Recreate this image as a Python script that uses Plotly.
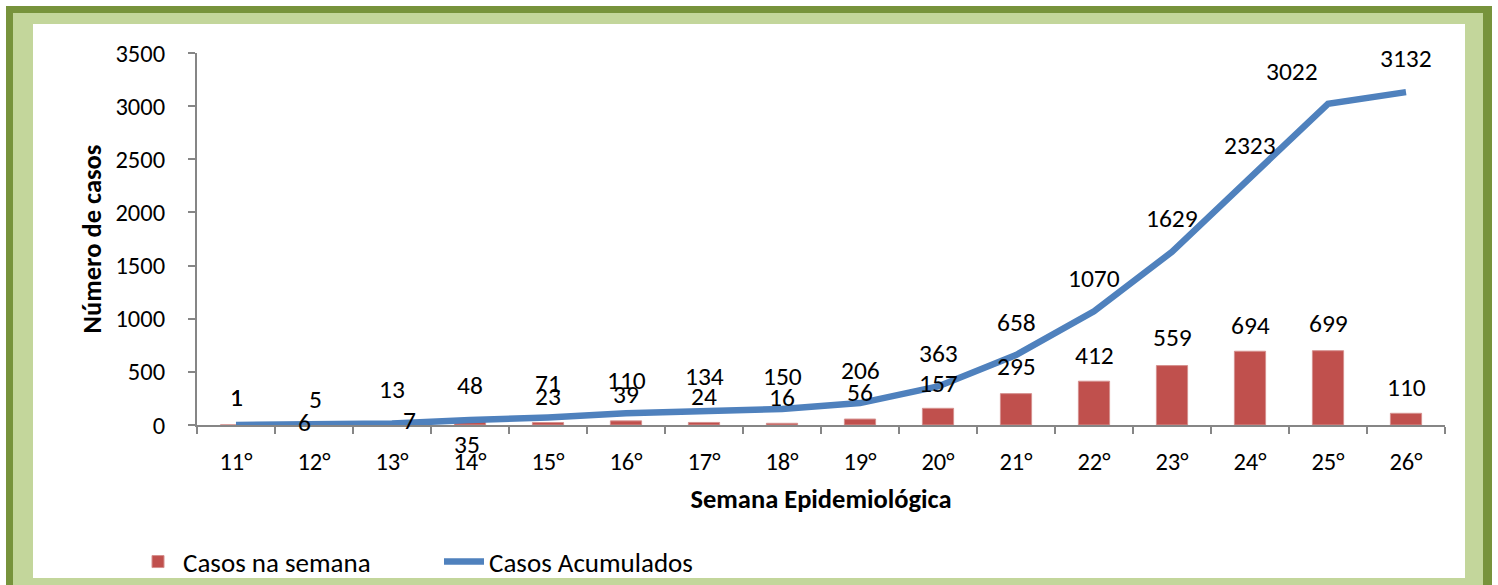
import plotly.graph_objects as go

weeks = ["11°", "12°", "13°", "14°", "15°", "16°", "17°", "18°",
         "19°", "20°", "21°", "22°", "23°", "24°", "25°", "26°"]
weekly = [1, 5, 7, 35, 23, 39, 24, 16, 56, 157, 295, 412, 559, 694, 699, 110]
cumulative = [1, 6, 13, 48, 71, 110, 134, 150, 206, 363, 658, 1070, 1629, 2323, 3022, 3132]

# label offsets in pixels (dx, dy up)
cum_off = [(0, 27), (-10, 2), (0, 34), (0, 34), (0, 34), (0, 33), (0, 34), (0, 33),
           (0, 33), (0, 33), (0, 33), (0, 33), (0, 33), (0, 33), (-36, 32), (0, 34)]
wk_off = [(0, 27), (1, 25), (17, 4), (-3, -23), (0, 26), (0, 26), (0, 26), (0, 26),
          (0, 27), (0, 25), (0, 27), (0, 26), (0, 28), (0, 26), (0, 27), (0, 26)]

FONT = "Carlito, Lato"
W, H = 1498, 585
RED = "#C0504D"
BLUE = "#4F81BD"
AX = "#868686"

fig = go.Figure()
fig.add_trace(go.Bar(x=weeks, y=weekly, name="Casos na semana",
                     marker=dict(color=RED, line=dict(color="#D5908E", width=1))))
fig.add_trace(go.Scatter(x=weeks, y=cumulative, name="Casos Acumulados", mode="lines",
                         line=dict(color=BLUE, width=6.5)))

ann = []
for w, v, (dx, dy) in zip(weeks, cumulative, cum_off):
    ann.append(dict(x=w, y=v, text=str(v), showarrow=False, xshift=dx, yshift=dy,
                    font=dict(family=FONT, size=25.5, color="black")))
for w, v, (dx, dy) in zip(weeks, weekly, wk_off):
    ann.append(dict(x=w, y=v, text=str(v), showarrow=False, xshift=dx, yshift=dy,
                    font=dict(family=FONT, size=25.5, color="black")))

def px(x):
    return x / W

def py(y):
    return 1 - y / H

shapes = [
    dict(type="rect", xref="paper", yref="paper", x0=px(6), x1=px(1492), y0=py(600), y1=py(6),
         fillcolor="#77933C", line=dict(width=0), layer="below"),
    dict(type="rect", xref="paper", yref="paper", x0=px(13), x1=px(1483), y0=py(600), y1=py(13),
         fillcolor="#C3D69B", line=dict(width=0), layer="below"),
    dict(type="rect", xref="paper", yref="paper", x0=px(33), x1=px(1465), y0=py(578), y1=py(24),
         fillcolor="white", line=dict(width=0), layer="below"),
]

fig.update_layout(
    width=W, height=H,
    margin=dict(l=0, r=0, t=0, b=0, autoexpand=False),
    paper_bgcolor="white",
    plot_bgcolor="#D7E4BD",
    font=dict(family=FONT, size=24.5, color="black"),
    bargap=0.6,
    showlegend=True,
    legend=dict(orientation="h", x=px(133), y=py(562), xanchor="left", yanchor="middle",
                font=dict(family=FONT, size=27, color="black"), bgcolor="rgba(0,0,0,0)",
                traceorder="normal", itemwidth=40, entrywidth=251, entrywidthmode="pixels"),
    annotations=ann,
    shapes=shapes,
    xaxis=dict(domain=[px(197), px(1445)], type="category", showline=True, linecolor=AX,
               linewidth=2, ticks="outside", tickson="boundaries", ticklen=7, tickwidth=2,
               tickcolor=AX, showgrid=False, ticklabelstandoff=14, automargin=False,
               tickfont=dict(family=FONT, size=24.5),
               title=dict(text="<b>Semana Epidemiológica</b>", standoff=13,
                          font=dict(family=FONT, size=26.5))),
    yaxis=dict(domain=[py(425), py(53)], range=[0, 3500], dtick=500, showline=True,
               linecolor=AX, linewidth=2, ticks="outside", ticklen=7, tickwidth=2,
               tickcolor=AX, showgrid=False, zeroline=False, ticklabelstandoff=18,
               automargin=False, tickfont=dict(family=FONT, size=24.5),
               title=dict(text="<b>Número de casos</b>", standoff=6,
                          font=dict(family=FONT, size=26.5))),
)

fig.write_html(
    "out.html",
    config={"displayModeBar": False},
    post_script=(
        "var gd=document.getElementById('{plot_id}');"
        "document.body.style.margin='0';"
        "document.body.style.overflow='hidden';"
        "gd.style.position='absolute';gd.style.left='0px';gd.style.top='0px';"
    ),
)
